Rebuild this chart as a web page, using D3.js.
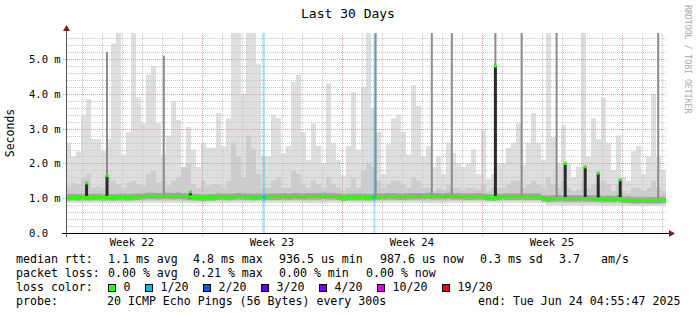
<!doctype html>
<html>
  <head>
    <script src="https://cdnjs.cloudflare.com/ajax/libs/d3/7.8.5/d3.min.js"></script>
    <meta charset="UTF-8">
    <style>
      body { margin: 0; background: #fff; }
      text { font-family: "DejaVu Sans Mono", monospace; }
    </style>
  </head>
  <body>
    <svg id="chart" width="697" height="315"></svg>
    <script>

// time range of the graph
var endTime = Date.UTC(2025, 5, 24, 4, 55, 47);
var startTime = endTime - 30 * 864e5;
var colHours = 6; // one column of smoke = 6 hours

// median rtt per column (ms)
var median = [
  1.02,1.03,1.02,1.03,1.02,1.03,1.03,1.02,1.03,1.02,1.03,1.03,1.02,1.03,1.04,1.05,1.06,1.06,1.05,1.06,1.06,1.05,1.06,1.05,1.04,1.03,1.02,1.01,1.02,1.02,
  1.04,1.04,1.03,1.04,1.05,1.04,1.04,1.03,1.04,1.03,1.04,1.04,1.04,1.05,1.04,1.05,1.05,1.04,1.05,1.05,1.05,1.06,1.05,1.05,1.04,1.01,1.03,1.03,1.03,1.03,
  1.02,1.03,1.04,1.04,1.05,1.05,1.04,1.04,1.05,1.05,1.05,1.05,1.06,1.05,1.05,1.05,1.06,1.05,1.05,1.04,1.04,1.04,1.05,1.04,1.02,1.01,1.03,1.04,1.04,1.04,
  1.04,1.04,1.04,1.04,1.04,0.99,0.98,0.99,1.00,0.99,0.99,0.99,0.99,0.99,0.99,0.99,0.98,0.97,0.98,0.97,0.99,0.95,0.95,0.94,0.94,0.94,0.94,0.94,0.94,0.95
];

// highest ping per column (light smoke top, ms)
var smokeMax = [
  2.6,2.2,2.35,3.4,3.85,2.7,2.7,2.35,2.7,5.45,5.75,2.25,2.9,5.75,3.9,3.15,4.55,4.8,3.15,2.25,2.8,3.8,3.25,1.8,3.05,2.4,1.9,2.6,2.45,2.45,
  3.45,2.5,3.3,5.75,5.75,4.0,5.75,5.75,4.85,2.2,2.2,3.4,3.3,2.3,2.5,4.35,4.55,2.9,2.1,3.15,2.5,2.0,4.3,2.6,2.1,1.65,2.5,4.05,2.4,4.2,
  5.75,3.6,2.9,1.7,2.55,3.3,3.4,2.9,2.25,4.25,3.65,2.2,2.5,1.9,2.2,1.7,2.6,2.3,2.0,1.9,2.0,2.4,1.7,2.95,1.55,1.7,2.0,2.0,2.45,2.6,
  3.15,1.95,2.6,3.45,2.6,2.1,5.75,2.75,2.0,3.1,2.0,1.6,1.9,5.75,2.2,3.3,2.7,3.9,2.6,1.8,2.8,1.6,1.5,2.35,2.5,1.7,2.2,4.0,2.2,1.8
];

// upper edge of the denser smoke per column (ms)
var smokeMid = [
  1.35,1.45,1.4,1.6,1.7,1.3,1.35,1.3,1.6,1.5,1.4,1.3,1.45,1.5,1.4,1.35,1.7,1.8,1.45,1.5,1.35,1.5,1.6,1.9,2.0,1.4,1.3,1.5,1.35,1.4,
  1.4,1.3,1.5,2.6,2.2,1.6,2.8,2.4,1.7,1.3,1.3,1.5,1.6,1.3,1.3,1.8,1.7,1.4,1.3,1.5,1.4,1.3,1.6,1.4,1.3,1.2,1.3,1.6,1.3,1.8,
  2.0,1.9,1.5,1.3,1.4,1.5,1.5,1.4,1.3,1.6,1.5,1.3,1.3,1.2,1.3,1.25,1.4,1.3,1.3,1.25,1.3,1.3,1.25,1.4,1.2,1.3,1.3,1.3,1.4,1.5,
  1.5,1.3,1.4,1.5,1.4,1.3,1.6,1.4,1.3,1.5,1.3,1.2,1.25,1.5,1.3,1.4,1.35,1.5,1.4,1.2,1.4,1.2,1.15,1.3,1.3,1.2,1.3,1.5,1.3,1.2
];

// lowest ping per day (ms)
var smokeLow = [
  0.86,0.86,0.85,0.86,0.86,0.86,0.85,0.86,0.86,0.86,0.86,0.86,0.85,0.86,0.86,
  0.86,0.86,0.86,0.85,0.86,0.86,0.86,0.86,0.86,0.80,0.80,0.80,0.79,0.78,0.78
];

// single samples that reach the top (days from start, ms)
var spikeDays = [2.05, 4.89, 15.48, 18.29, 19.29, 21.47, 22.78, 24.53, 29.61];
var spikeTops = [5.2, 5.1, 5.75, 5.75, 5.75, 5.75, 5.75, 5.75, 5.75];

// dense columns where the median jumps up (days from start, ms)
var peakDays = [1.03, 2.05, 6.22, 21.47, 24.96, 25.96, 26.61, 27.71];
var peakTops = [1.44, 1.65, 1.18, 4.8, 2.0, 1.9, 1.72, 1.53];

// columns with 1/20 packet loss (days from start)
var lossDays = [9.9, 15.42];

// axis labels
var yTicks = [0, 1, 2, 3, 4, 5];
var yTickLabels = ["0.0", "1.0 m", "2.0 m", "3.0 m", "4.0 m", "5.0 m"];
var weekLabels = ["Week 22", "Week 23", "Week 24", "Week 25"];

// loss colour legend
var lossNames = ["0", "1/20", "2/20", "3/20", "4/20", "10/20", "19/20"];
var lossColors = ["#26ff00", "#00b8ff", "#0059ff", "#5e00ff", "#7e00ff", "#dd00ff", "#ff0000"];

var svg = d3.select("#chart");
var day = 864e5;

var x = d3.scaleUtc().domain([startTime, endTime]).range([66, 666]);
var y = d3.scaleLinear().domain([0, 5.75]).range([233, 33]);
var dayX = d => x(startTime + d * day);
var colT = i => startTime + i * colHours * 3600e3;

svg.append("rect").attr("width", 697).attr("height", 315).attr("fill", "#fff");

// title
svg.append("text")
  .attr("x", 348).attr("y", 18)
  .attr("text-anchor", "middle")
  .style("font-size", "13px")
  .text("Last 30 Days");

var plot = svg.append("g");

// light smoke
plot.append("g").selectAll("rect")
  .data(smokeMax)
  .enter().append("rect")
    .attr("x", (d, i) => x(colT(i)))
    .attr("width", (d, i) => x(colT(i + 1)) - x(colT(i)))
    .attr("y", d => y(d))
    .attr("height", (d, i) => y(smokeLow[Math.floor(i * colHours / 24)]) - y(d))
    .attr("fill", "#dedede");

// denser smoke
plot.append("g").selectAll("rect")
  .data(smokeMid)
  .enter().append("rect")
    .attr("x", (d, i) => x(colT(i)))
    .attr("width", (d, i) => x(colT(i + 1)) - x(colT(i)))
    .attr("y", d => y(d))
    .attr("height", (d, i) => y(smokeLow[Math.floor(i * colHours / 24)] + 0.06) - y(d))
    .attr("fill", "#cdcdcd");

// dark core round the median
plot.append("g").selectAll("rect")
  .data(median)
  .enter().append("rect")
    .attr("x", (d, i) => x(colT(i)))
    .attr("width", (d, i) => x(colT(i + 1)) - x(colT(i)))
    .attr("y", d => y(d + 0.1))
    .attr("height", d => y(d - 0.09) - y(d + 0.1))
    .attr("fill", "#a4a4a4");

// grid
var minorDays = d3.utcDay.range(new Date(startTime), new Date(endTime));
var majorDays = d3.utcSunday.range(new Date(startTime), new Date(endTime));
var minorY = d3.range(0, 5.75, 0.2);

var grid = svg.append("g").attr("stroke-dasharray", "1,1").attr("shape-rendering", "crispEdges");
grid.selectAll(".vmin").data(minorDays).enter().append("line")
  .attr("x1", d => Math.round(x(d)) + 0.5).attr("x2", d => Math.round(x(d)) + 0.5)
  .attr("y1", 33).attr("y2", 233)
  .attr("stroke", "#c8c8c8");
grid.selectAll(".hmin").data(minorY).enter().append("line")
  .attr("x1", 67).attr("x2", 666)
  .attr("y1", d => Math.round(y(d)) + 0.5).attr("y2", d => Math.round(y(d)) + 0.5)
  .attr("stroke", "#c8c8c8");
grid.selectAll(".vmaj").data(majorDays).enter().append("line")
  .attr("x1", d => Math.round(x(d)) + 0.5).attr("x2", d => Math.round(x(d)) + 0.5)
  .attr("y1", 33).attr("y2", 237)
  .attr("stroke", "#dc9c9c");
grid.selectAll(".hmaj").data(yTicks.slice(1)).enter().append("line")
  .attr("x1", 63).attr("x2", 666)
  .attr("y1", d => Math.round(y(d)) + 0.5).attr("y2", d => Math.round(y(d)) + 0.5)
  .attr("stroke", "#dc9c9c");

// tall single spikes
svg.append("g").selectAll("rect")
  .data(spikeDays)
  .enter().append("rect")
    .attr("x", d => dayX(d) - 1)
    .attr("width", 2)
    .attr("y", (d, i) => y(spikeTops[i]))
    .attr("height", (d, i) => y(1.0) - y(spikeTops[i]))
    .attr("fill", "#8c8c8c");

// dense peaks
svg.append("g").selectAll("rect")
  .data(peakDays)
  .enter().append("rect")
    .attr("x", d => dayX(d) - 1.5)
    .attr("width", 3)
    .attr("y", (d, i) => y(peakTops[i]))
    .attr("height", (d, i) => y(0.98) - y(peakTops[i]))
    .attr("fill", "#2a2a2a");

// packet loss markers
svg.append("g").selectAll("rect")
  .data(lossDays)
  .enter().append("rect")
    .attr("x", d => dayX(d) - 1)
    .attr("width", 2)
    .attr("y", 33)
    .attr("height", 200)
    .attr("fill", lossColors[1])
    .attr("opacity", 0.35);

// median line
var medLine = d3.line()
  .x((d, i) => x(colT(i)))
  .y(d => y(d))
  .curve(d3.curveStepAfter);
svg.append("path")
  .datum(median.concat([median[median.length - 1]]))
  .attr("d", medLine)
  .attr("fill", "none")
  .attr("stroke", lossColors[0])
  .attr("stroke-width", 3);

svg.append("g").selectAll("rect")
  .data(peakDays)
  .enter().append("rect")
    .attr("x", d => dayX(d) - 1.5)
    .attr("width", 3)
    .attr("y", (d, i) => y(peakTops[i]) - 1.5)
    .attr("height", 3)
    .attr("fill", lossColors[0]);

svg.append("g").selectAll("rect")
  .data(lossDays)
  .enter().append("rect")
    .attr("x", d => dayX(d) - 1.5)
    .attr("width", 3)
    .attr("y", (d, i) => y(median[Math.floor(d * 24 / colHours)]) - 1.5)
    .attr("height", 3)
    .attr("fill", lossColors[1]);

// axes
svg.append("line")
  .attr("x1", 66.5).attr("x2", 66.5).attr("y1", 237).attr("y2", 31)
  .attr("stroke", "#555");
svg.append("path")
  .attr("d", "M63,31 L70,31 L66.5,25 Z")
  .attr("fill", "#7f1f1f");
svg.append("line")
  .attr("x1", 62).attr("x2", 670).attr("y1", 233.5).attr("y2", 233.5)
  .attr("stroke", "#000");
svg.append("path")
  .attr("d", "M669,230 L669,237 L675,233.5 Z")
  .attr("fill", "#7f1f1f");

// y labels
svg.append("g").selectAll("text")
  .data(yTicks)
  .enter().append("text")
    .attr("x", 29)
    .attr("y", d => y(d) + 4)
    .style("font-size", "10.5px")
    .text((d, i) => yTickLabels[i]);

// week labels at the centre of each week
var weekStarts = d3.utcSunday.range(new Date(startTime - 7 * day), new Date(endTime));
var weekMids = weekStarts.map(d => +d + 3.5 * day).filter(t => t > startTime && t < endTime);
svg.append("g").selectAll("text")
  .data(weekMids)
  .enter().append("text")
    .attr("x", d => x(d))
    .attr("y", 246)
    .attr("text-anchor", "middle")
    .style("font-size", "10.5px")
    .text((d, i) => weekLabels[i]);

// y title
svg.append("text")
  .attr("transform", "translate(14,133)rotate(-90)")
  .attr("text-anchor", "middle")
  .style("font-size", "11.5px")
  .text("Seconds");

// credit on the right
svg.append("text")
  .attr("transform", "translate(685,5)rotate(90)")
  .style("font-size", "8.2px")
  .attr("fill", "#aaa")
  .text("RRDTOOL / TOBI OETIKER");

// legend
var legend = svg.append("g").style("font-size", "11.6px").attr("xml:space", "preserve");
var line1 = [["median rtt:", 16], ["1.1 ms avg", 108], ["4.8 ms max", 193], ["936.5 us min", 279],
             ["987.6 us now", 380], ["0.3 ms sd", 480], ["3.7", 559], ["am/s", 601]];
var line2 = [["packet loss:", 16], ["0.00 % avg", 108], ["0.21 % max", 193], ["0.00 % min", 279], ["0.00 % now", 366]];
var line4 = [["probe:", 16], ["20 ICMP Echo Pings (56 Bytes) every 300s", 107], ["end: Tue Jun 24 04:55:47 2025", 478]];

function legendLine(items, yy) {
  legend.append("g").selectAll("text")
    .data(items)
    .enter().append("text")
      .attr("x", d => d[1])
      .attr("y", yy)
      .text(d => d[0]);
}
legendLine(line1, 263);
legendLine(line2, 277);
legendLine([["loss color:", 16]], 291);
legendLine(line4, 305);

var swatchX = [108, 145, 203, 261, 319, 377, 442];
var sw = legend.append("g").selectAll("g")
  .data(lossNames)
  .enter().append("g");
sw.append("rect")
  .attr("x", (d, i) => swatchX[i] + 0.5)
  .attr("y", 284.5)
  .attr("width", 7).attr("height", 7)
  .attr("fill", (d, i) => lossColors[i])
  .attr("stroke", "#000");
sw.append("text")
  .attr("x", (d, i) => swatchX[i] + 15.5)
  .attr("y", 291)
  .text(d => d);

    </script>
  </body>
</html>
